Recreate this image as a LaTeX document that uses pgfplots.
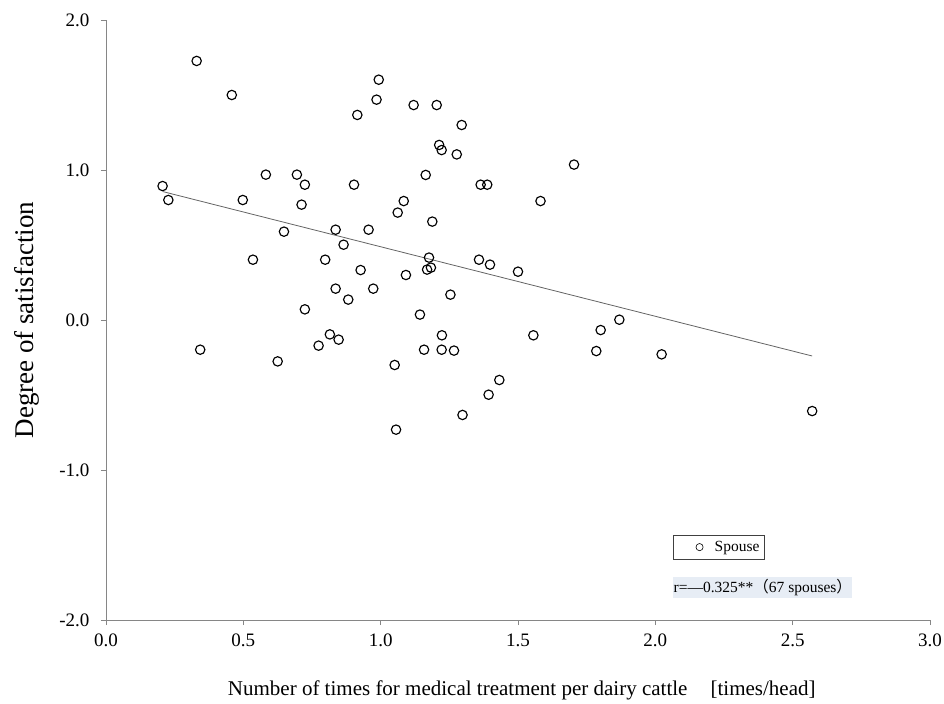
\documentclass[border=0pt]{standalone}
\usepackage{pgfplots}
\pgfplotsset{compat=1.18}
\usepackage{fontspec}
\setmainfont{Liberation Serif}
\newfontfamily\cjk{Noto Sans CJK JP}
\definecolor{axgray}{RGB}{134,134,134}
\definecolor{linegray}{RGB}{100,100,100}
\definecolor{annobg}{RGB}{231,237,245}
\begin{document}
\begin{tikzpicture}
\begin{axis}[name=ax,
  scale only axis, width=824bp, height=600bp,
  xmin=0, xmax=3, ymin=-2, ymax=2,
  axis lines=left,
  axis line style={axgray, line width=0.8bp, -},
  tick align=outside, major tick length=5bp,
  tick style={axgray, line width=0.8bp},
  xtick={0,0.5,1,1.5,2,2.5,3},
  xticklabels={0.0,0.5,1.0,1.5,2.0,2.5,3.0},
  ytick={-2,-1,0,1,2},
  yticklabels={-2.0,-1.0,0.0,1.0,2.0},
  tick label style={font=\fontsize{19bp}{22bp}\selectfont},
  xticklabel style={yshift=-5bp},
  yticklabel style={xshift=-8bp},
  xlabel={Number of times for medical treatment per dairy cattle\hspace{1.1em}[times/head]},
  ylabel={Degree of satisfaction},
  every axis x label/.style={at={(axis description cs:0.5045,-0.125)}, anchor=base, font=\fontsize{21bp}{24bp}\selectfont},
  every axis y label/.style={at={(axis description cs:-0.0882,0.5)}, rotate=90, anchor=base, font=\fontsize{27bp}{30bp}\selectfont},
  clip=false,
  legend style={at={(axis cs:2.065,-1.433)}, anchor=north west, draw=black!75, line width=0.6bp,
    inner xsep=3bp, inner ysep=4bp, font=\fontsize{15.5bp}{17bp}\selectfont},
  legend image code/.code={\path (0bp,0bp) (35bp,0bp); \draw[#1, mark size=3.6bp, line width=0.6bp] plot coordinates {(22.5bp,0bp)};},
]
\addplot[only marks, mark=o, mark size=4.7bp, black, line width=1.15bp]
  table {
x y
0.330 1.727
0.458 1.500
0.993 1.602
0.985 1.469
0.915 1.367
1.120 1.433
1.204 1.433
1.295 1.300
1.213 1.167
1.222 1.133
1.277 1.104
1.704 1.036
0.206 0.893
0.227 0.800
0.582 0.969
0.695 0.969
0.724 0.902
0.712 0.769
0.498 0.800
0.903 0.902
1.084 0.793
1.062 0.716
1.164 0.967
1.364 0.902
1.388 0.902
1.582 0.793
1.188 0.656
0.648 0.589
0.836 0.602
0.956 0.602
0.865 0.502
0.535 0.402
0.798 0.402
0.927 0.333
1.176 0.416
1.169 0.336
1.183 0.349
1.092 0.300
1.358 0.402
1.398 0.369
1.500 0.322
0.836 0.209
0.973 0.209
0.882 0.136
1.254 0.169
0.724 0.071
1.143 0.036
1.869 0.002
1.801 -0.067
1.556 -0.102
1.223 -0.102
0.815 -0.096
0.847 -0.131
0.774 -0.171
0.343 -0.198
1.158 -0.198
1.222 -0.198
1.267 -0.204
1.785 -0.207
2.023 -0.229
0.625 -0.276
1.051 -0.300
1.432 -0.400
1.393 -0.498
1.298 -0.633
1.056 -0.731
2.571 -0.607
};
\addlegendentry{Spouse}
\addplot[linegray, line width=0.8bp, no marks, forget plot] coordinates {(0.207,0.856) (2.571,-0.240)};
\node[fill=annobg, inner xsep=0.5bp, inner ysep=2bp, anchor=west, font=\fontsize{15.5bp}{18bp}\selectfont]
  at (axis cs:2.064,-1.782) {r=—0.325**{\cjk （}67 spouses{\cjk ）}};
\end{axis}
\pgfresetboundingbox
\path ([xshift=-106bp,yshift=-84bp]ax.south west) rectangle ++(944bp,704bp);
\end{tikzpicture}
\end{document}
